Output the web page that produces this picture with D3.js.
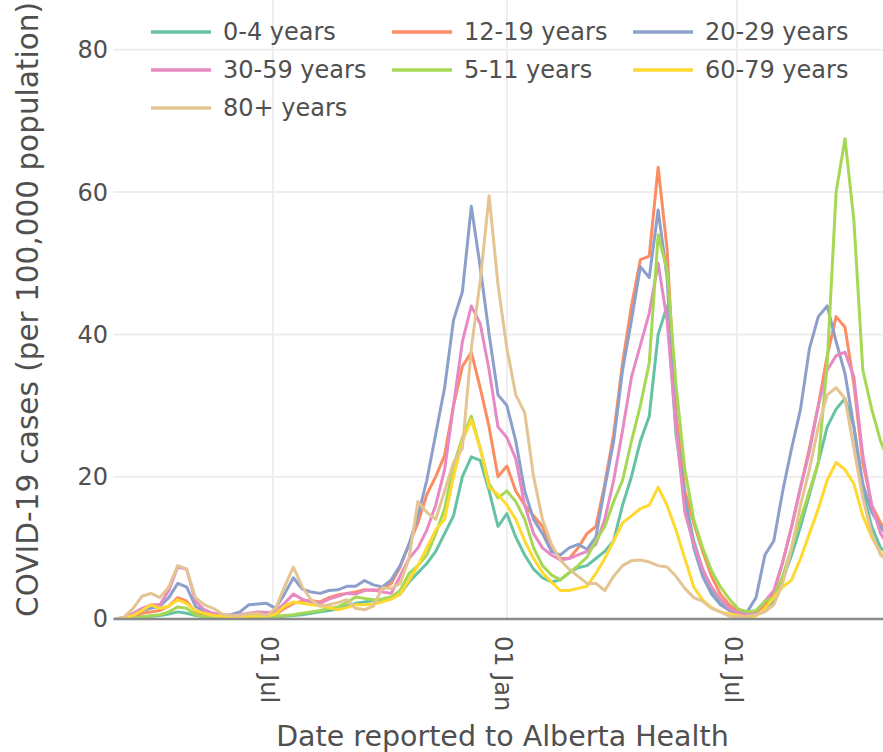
<!DOCTYPE html>
<html>
<head>
<meta charset="utf-8" />
<style>
  html, body { margin: 0; padding: 0; background: #fff; }
  text { font-family: "DejaVu Sans", Verdana, sans-serif; fill: #505050; }
  .grid { stroke: #eee; stroke-width: 2px; }
  .zero { stroke: #8a8a8a; stroke-width: 2.5px; }
  .series { fill: none; stroke-width: 3px; stroke-linejoin: round; }
</style>
</head>
<body>
<div id="vis"></div>
<script src="https://cdnjs.cloudflare.com/ajax/libs/d3/7.8.5/d3.min.js"></script>
<script>
// weekly 7-day average, first point 28 Feb 2020
var startDate = new Date(Date.UTC(2020, 1, 28));
var stepDays = 7;

var groups = ["0-4 years", "12-19 years", "20-29 years", "30-59 years", "5-11 years", "60-79 years", "80+ years"];
var colors = ["#66c2a5", "#fc8d62", "#8da0cb", "#e78ac3", "#a6d854", "#ffd92f", "#e5c494"];

var age0_4 = [0, 0, 0.1, 0.3, 0.4, 0.5, 0.7, 1.0, 0.8, 0.5, 0.3, 0.2, 0.1, 0.2, 0.2, 0.2, 0.3, 0.3, 0.3, 0.4,
  0.5, 0.6, 0.8, 1.0, 1.2, 1.4, 1.8, 2.2, 2.4, 2.6, 2.6, 2.9, 3.5, 5.2, 6.5, 7.8, 9.5, 12, 14.5, 20,
  22.8, 22.3, 18, 13, 14.8, 11.5, 9, 7, 5.8, 5.2, 5.5, 6.5, 7.2, 7.5, 8.5, 9.5, 11, 16, 20, 25,
  28.5, 40, 44, 26, 17, 11, 7, 4, 2.2, 1.3, 0.8, 0.6, 0.8, 1.5, 2.5, 5.5, 9, 13, 17.5, 22,
  27, 29.5, 31, 27, 18, 13, 10, 9];
var age12_19 = [0, 0, 0.3, 0.8, 1.0, 1.2, 1.8, 3.0, 2.5, 1.0, 0.6, 0.4, 0.3, 0.3, 0.4, 0.5, 0.6, 0.5, 0.6, 1.5,
  2.2, 2.5, 2.6, 2.4, 3.0, 3.4, 3.6, 3.8, 4.1, 4.0, 4.2, 5.0, 7.3, 10.5, 13.5, 17.5, 20, 23, 30, 35.5,
  37.5, 32.5, 27, 20, 21.5, 18, 16, 14.5, 13, 10, 8.5, 8.5, 10, 12, 13, 19, 26, 36, 44, 50.5,
  51, 63.5, 52, 29, 18, 13.5, 9.5, 6, 3.5, 2, 1, 0.7, 0.9, 2, 3.6, 8, 13, 18.5, 24, 30,
  37, 42.5, 41, 33, 22, 16, 13.5, 12];
var age20_29 = [0, 0.1, 0.5, 1.2, 1.5, 1.8, 3.0, 5.0, 4.5, 1.8, 1.0, 0.7, 0.5, 0.6, 1.0, 2.0, 2.1, 2.2, 1.5, 3.5,
  5.8, 4.2, 3.8, 3.6, 4.0, 4.1, 4.6, 4.6, 5.4, 4.8, 4.5, 5.5, 7.5, 10.5, 14.5, 19.5, 26, 32.5, 42, 46,
  58, 49.5, 40, 31.5, 30, 25, 18, 14, 12, 9.5, 9, 10, 10.5, 9.8, 11.5, 18.5, 25, 35, 42, 49.5,
  48, 57.5, 48, 27, 17, 10, 6, 3.5, 2, 1.2, 0.8, 1.0, 3, 9, 11, 18, 24, 29.5, 38, 42.5,
  44, 39, 34.5, 27, 19, 15, 13, 11];
var age30_59 = [0, 0.2, 0.8, 1.5, 2.0, 2.0, 4.0, 7.3, 7.0, 2.5, 1.3, 0.8, 0.6, 0.5, 0.6, 0.8, 1.0, 0.9, 1.0, 2.2,
  3.5, 2.8, 2.4, 2.2, 2.8, 3.2, 3.6, 3.5, 4.0, 4.1, 3.8, 3.6, 6.0, 8.5, 10.0, 12.5, 16, 21, 30, 39,
  44, 41.5, 35, 27, 25.5, 22.5, 16, 12, 10, 9, 8.3, 8.5, 9.0, 9.5, 10.5, 14, 19.5, 26.5, 34, 38.5,
  43, 50, 42, 27, 15, 10.5, 7, 4.5, 2.8, 1.5, 0.8, 0.6, 1.0, 2.5, 4, 8, 13, 18.5, 23.5, 30,
  35, 37, 37.5, 34, 23, 16, 12, 10];
var age5_11 = [0, 0, 0.1, 0.3, 0.5, 0.6, 1.0, 1.7, 1.5, 0.6, 0.3, 0.2, 0.2, 0.2, 0.2, 0.3, 0.3, 0.3, 0.4, 0.5,
  0.6, 0.8, 1.0, 1.2, 1.5, 1.7, 2.3, 3.1, 2.9, 2.7, 2.8, 3.1, 4.0, 6.4, 7.5, 9, 12, 15.5, 21.5, 25.5,
  28.5, 24, 19, 17, 18, 16.5, 14, 10, 7.5, 6.2, 5.5, 6.5, 7.5, 8.7, 11, 13, 16.5, 19.5, 25, 30,
  36, 54, 49, 33, 21, 14, 10, 6.8, 4.5, 2.8, 1.4, 1.0, 1.2, 2.5, 3, 6, 10, 14, 18, 22,
  36, 60, 67.5, 56, 35, 29.5, 25, 22];
var age60_79 = [0, 0.1, 0.5, 1.2, 2.0, 1.5, 1.8, 2.7, 2.2, 1.2, 0.8, 0.5, 0.4, 0.3, 0.3, 0.4, 0.5, 0.4, 0.7, 1.8,
  2.4, 2.2, 2.0, 1.9, 1.6, 1.3, 1.6, 2.0, 2.0, 2.1, 2.4, 2.8, 3.5, 5.5, 7.5, 10, 12.5, 14, 20, 25,
  28, 24, 18.5, 17.5, 16, 14, 11, 8.5, 6.5, 5.2, 4.0, 4.0, 4.3, 4.6, 6.4, 8.5, 11, 13.5, 14.5, 15.5,
  16, 18.5, 16, 12.5, 8.5, 4.5, 2.7, 1.6, 1.0, 0.7, 0.5, 0.3, 0.4, 1.5, 3, 4.5, 5.5, 8.5, 12, 15.5,
  19.5, 22, 21, 19, 14.5, 11.5, 9.3, 8];
var age80 = [0, 0.3, 1.5, 3.2, 3.6, 3.0, 4.5, 7.5, 7.0, 3.0, 2.0, 1.5, 0.7, 0.5, 0.5, 0.7, 0.8, 0.5, 1.5, 4.5,
  7.3, 4.5, 2.7, 1.8, 2.0, 2.3, 2.7, 1.5, 1.3, 1.8, 4.4, 4.3, 5.0, 8.5, 16.5, 15, 14, 18, 22, 24,
  38, 47.5, 59.5, 47, 38, 31.5, 29, 20, 14, 10.5, 8.3, 7, 6, 5, 5.0, 4.0, 6.0, 7.5, 8.2, 8.3,
  8.0, 7.5, 7.3, 6, 4.3, 3, 2.5, 1.5, 1.0, 0.4, 0.3, 0.4, 0.6, 1.0, 2.0, 5, 10, 16, 21, 27,
  31.5, 32.5, 31, 24, 17, 12, 9, 8];

var yTicks = [0, 20, 40, 60, 80];
var xTicks = [new Date(Date.UTC(2020, 6, 1)), new Date(Date.UTC(2021, 0, 1)), new Date(Date.UTC(2021, 6, 1))];

var seriesValues = [age0_4, age12_19, age20_29, age30_59, age5_11, age60_79, age80];

(function() {
  var W = 883, H = 752;
  var left = 115.4, right = 889.5, top = 0, bottom = 619;

  var dates = d3.range(age0_4.length).map(function(i) { return d3.utcDay.offset(startDate, i * stepDays); });

  var x = d3.scaleUtc().domain([dates[0], dates[dates.length - 1]]).range([left, right]);
  var y = d3.scaleLinear().domain([0, 87]).range([bottom, top]);

  var svg = d3.select("#vis").append("svg").attr("width", W).attr("height", H);

  svg.append("defs").append("clipPath").attr("id", "plot")
    .append("rect").attr("x", left).attr("y", top).attr("width", right - left).attr("height", bottom - top);

  // grid
  svg.selectAll(".hgrid").data(yTicks.filter(function(d) { return d > 0; }))
    .enter().append("line").attr("class", "grid")
    .attr("x1", left - 2).attr("x2", right).attr("y1", y).attr("y2", y);
  svg.selectAll(".vgrid").data(xTicks)
    .enter().append("line").attr("class", "grid")
    .attr("x1", x).attr("x2", x).attr("y1", top).attr("y2", bottom);

  // lines
  var line = d3.line()
    .x(function(d, i) { return x(dates[i]); })
    .y(function(d) { return y(d); });

  svg.append("g").attr("clip-path", "url(#plot)")
    .selectAll("path").data(seriesValues)
    .enter().append("path").attr("class", "series")
    .attr("stroke", function(d, i) { return colors[i]; })
    .attr("d", line);

  svg.append("line").attr("class", "zero")
    .attr("x1", left - 2).attr("x2", right).attr("y1", y(0)).attr("y2", y(0));

  // y tick labels
  svg.selectAll(".ytick").data(yTicks)
    .enter().append("text")
    .attr("x", 108).attr("y", y).attr("dy", "0.35em")
    .attr("text-anchor", "end").style("font-size", "24px")
    .text(function(d) { return d; });

  // x tick labels, rotated
  var fmt = d3.utcFormat("%d %b");
  svg.selectAll(".xtick").data(xTicks)
    .enter().append("text")
    .attr("transform", function(d) { return "translate(" + x(d) + ",636) rotate(90)"; })
    .attr("dy", "0.49em").style("font-size", "24px")
    .text(fmt);

  // axis titles
  svg.append("text")
    .attr("x", (left + right) / 2).attr("y", 746)
    .attr("text-anchor", "middle").style("font-size", "28.5px")
    .text("Date reported to Alberta Health");
  svg.append("text")
    .attr("transform", "translate(38," + ((top + bottom) / 2) + ") rotate(-90)")
    .attr("text-anchor", "middle").style("font-size", "29.5px")
    .text("COVID-19 cases (per 100,000 population)");

  // legend, 3 columns
  var colX = [151, 392, 633], rowY = [32, 70, 108];
  var legend = svg.selectAll(".legend").data(groups)
    .enter().append("g")
    .attr("transform", function(d, i) { return "translate(" + colX[i % 3] + "," + rowY[Math.floor(i / 3)] + ")"; });
  legend.append("line").attr("x1", 0).attr("x2", 60).attr("y1", 0).attr("y2", 0)
    .attr("stroke", function(d, i) { return colors[i]; }).attr("stroke-width", 3.5);
  legend.append("text").attr("x", 72).attr("dy", "0.35em").style("font-size", "24px")
    .text(function(d) { return d; });
})();
</script>
</body>
</html>
